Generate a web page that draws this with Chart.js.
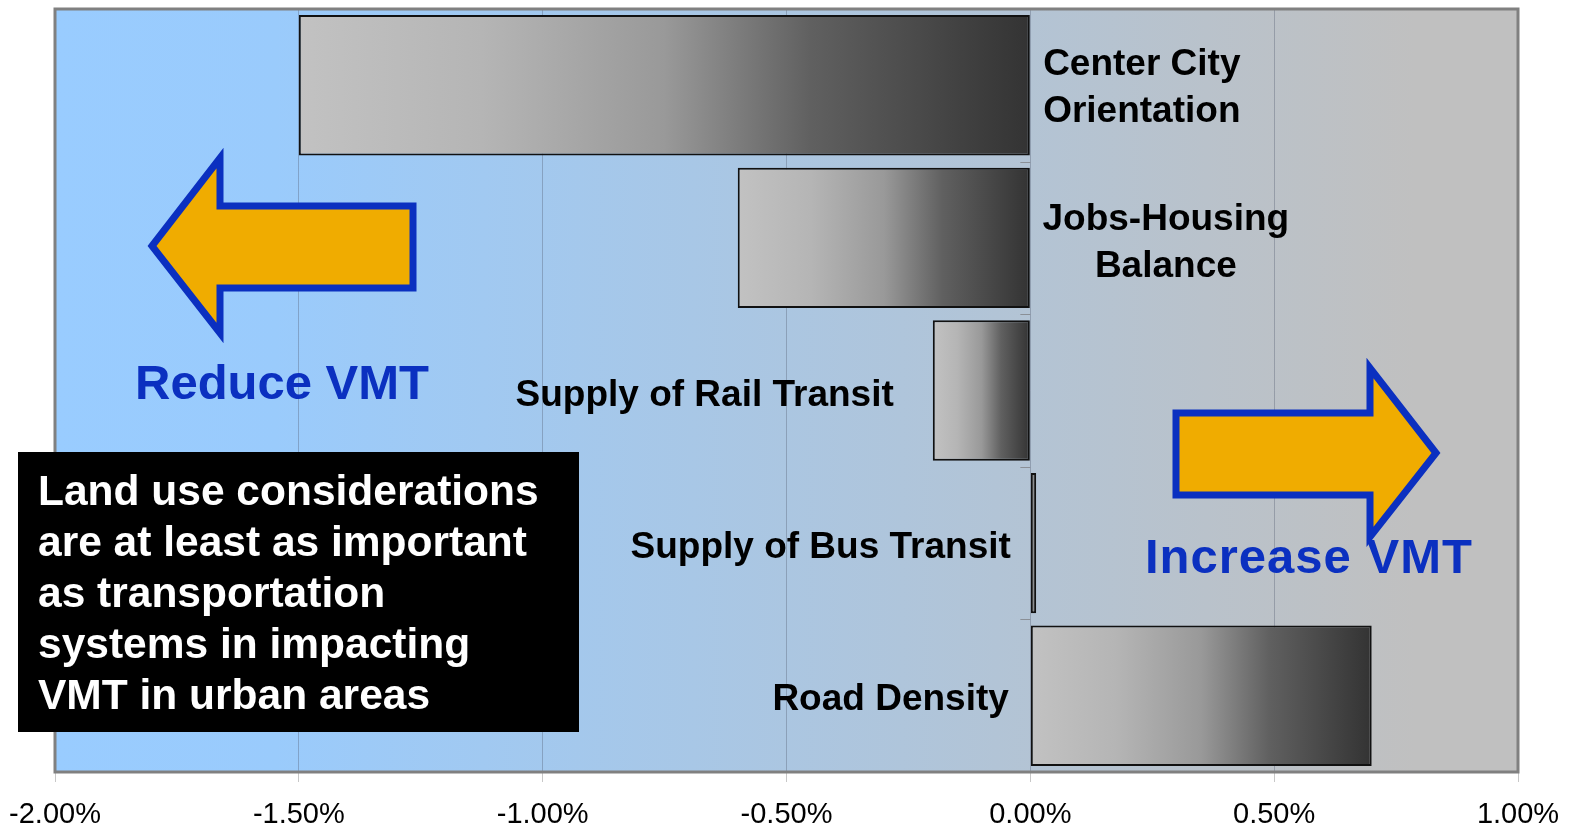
<!DOCTYPE html>
<html>
<head>
<meta charset="utf-8">
<script src="https://cdn.jsdelivr.net/npm/chart.js@4.4.1/dist/chart.umd.min.js"></script>
<style>
    html, body { margin: 0; padding: 0; background: #fff; }
</style>
</head>
<body>
<canvas id="vmtChart" width="1570" height="828"></canvas>
<script>
var categories = ['Center City Orientation', 'Jobs-Housing Balance', 'Supply of Rail Transit', 'Supply of Bus Transit', 'Road Density'];
var labelLines = [['Center City', 'Orientation'], ['Jobs-Housing', 'Balance'], ['Supply of Rail Transit'], ['Supply of Bus Transit'], ['Road Density']];
var vmtChange = [-1.5, -0.6, -0.2, 0.012, 0.7];
var xTicks = [-2, -1.5, -1, -0.5, 0, 0.5, 1];
var noteLines = ['Land use considerations', 'are at least as important', 'as transportation', 'systems in impacting', 'VMT in urban areas'];

var FONT = '"Liberation Sans", Arial, sans-serif';
var BLUE = '#0b30c0';
var ORANGE = '#f0ac00';

// label placement per bar: 'c' = centred right of zero, 'r' = right aligned left of bar
var labelPlace = [
    { mode: 'c', dx: 112, dy: 3 },
    { mode: 'c', dx: 136, dy: 5 },
    { mode: 'r', dx: -39, dy: 5, fromEnd: true },
    { mode: 'r', dx: -20, dy: 5 },
    { mode: 'r', dx: -22, dy: 4 }
];

function drawArrow(ctx, pts) {
    ctx.save();
    ctx.beginPath();
    ctx.moveTo(pts[0][0], pts[0][1]);
    for (var i = 1; i < pts.length; i++) ctx.lineTo(pts[i][0], pts[i][1]);
    ctx.closePath();
    ctx.fillStyle = ORANGE;
    ctx.fill();
    ctx.lineWidth = 7;
    ctx.lineJoin = 'miter';
    ctx.strokeStyle = BLUE;
    ctx.stroke();
    ctx.restore();
}

var backdrop = {
    id: 'backdrop',
    beforeDraw: (chart) => {
        var ctx = chart.ctx;
        var a = chart.chartArea;
        var g = ctx.createLinearGradient(a.left, 0, a.right, 0);
        g.addColorStop(0, '#99ccff');
        g.addColorStop(0.15, '#9acbfc');
        g.addColorStop(0.93, '#c0c0c0');
        g.addColorStop(1, '#c0c0c0');
        ctx.save();
        ctx.fillStyle = g;
        ctx.fillRect(a.left, a.top, a.right - a.left, a.bottom - a.top);
        ctx.restore();
    },
    beforeDatasetsDraw: (chart) => {
        var ctx = chart.ctx;
        var a = chart.chartArea;
        var x0 = chart.scales.x.getPixelForValue(0);
        var y = chart.scales.y;
        var half = (y.getPixelForValue(1) - y.getPixelForValue(0)) / 2;
        ctx.save();
        ctx.strokeStyle = '#8a8f96';
        ctx.lineWidth = 1;
        for (var i = 0; i < categories.length - 1; i++) {
            var yy = Math.round(y.getPixelForValue(i) + half) + 0.5;
            ctx.beginPath();
            ctx.moveTo(x0 - 10, yy);
            ctx.lineTo(x0, yy);
            ctx.stroke();
        }
        ctx.strokeStyle = '#808080';
        ctx.lineWidth = 3;
        ctx.strokeRect(a.left, a.top, a.right - a.left, a.bottom - a.top);
        ctx.restore();
    },
    afterDatasetsDraw: (chart) => {
        var ctx = chart.ctx;
        var meta = chart.getDatasetMeta(0);
        ctx.save();
        ctx.fillStyle = '#000';
        ctx.font = 'bold 37px ' + FONT;
        ctx.textBaseline = 'middle';
        meta.data.forEach((bar, i) => {
            var p = labelPlace[i];
            var lines = labelLines[i];
            var cy = bar.y + p.dy - (lines.length - 1) * 23.5;
            var x;
            if (p.mode === 'c') {
                ctx.textAlign = 'center';
                x = bar.base + p.dx;
            } else {
                ctx.textAlign = 'right';
                x = (p.fromEnd ? Math.min(bar.x, bar.base) : bar.base) + p.dx;
            }
            lines.forEach((t, k) => ctx.fillText(t, x, cy + k * 47));
        });

        // arrows
        drawArrow(ctx, [[152, 246], [220, 158], [220, 206], [413, 206], [413, 288], [220, 288], [220, 333]]);
        drawArrow(ctx, [[1436, 453], [1370, 368], [1370, 413], [1176, 413], [1176, 495], [1370, 495], [1370, 537]]);

        ctx.fillStyle = BLUE;
        ctx.textAlign = 'left';
        ctx.font = 'bold 49px ' + FONT;
        ctx.fillText('Reduce VMT', 135, 385);
        ctx.letterSpacing = '1px';
        ctx.fillText('Increase VMT', 1145, 559);
        ctx.letterSpacing = '0px';

        // note box
        ctx.fillStyle = '#000';
        ctx.fillRect(18, 452, 561, 280);
        ctx.fillStyle = '#fff';
        ctx.font = 'bold 42.5px ' + FONT;
        noteLines.forEach((t, k) => ctx.fillText(t, 38, 493 + k * 51));
        ctx.restore();
    }
};

function barGradient(context) {
    var chart = context.chart;
    if (!chart.chartArea) return '#999';
    var v = context.raw;
    var xs = chart.scales.x;
    var l = xs.getPixelForValue(Math.min(v, 0));
    var r = xs.getPixelForValue(Math.max(v, 0));
    if (r - l < 1) r = l + 1;
    var g = chart.ctx.createLinearGradient(l, 0, r, 0);
    g.addColorStop(0, '#c2c2c2');
    g.addColorStop(0.25, '#b5b5b5');
    g.addColorStop(0.5, '#999999');
    g.addColorStop(0.7, '#606060');
    g.addColorStop(1, '#333333');
    return g;
}

var ctx = document.getElementById('vmtChart').getContext('2d');
new Chart(ctx, {
    type: 'bar',
    data: {
        labels: categories,
        datasets: [{
            data: vmtChange,
            backgroundColor: barGradient,
            borderColor: '#111',
            borderWidth: 2,
            borderSkipped: false,
            barPercentage: 0.92,
            categoryPercentage: 1
        }]
    },
    options: {
        indexAxis: 'y',
        responsive: false,
        animation: false,
        devicePixelRatio: 1,
        layout: { padding: { left: 55, right: 52, top: 9, bottom: 0 } },
        plugins: {
            legend: { display: false },
            tooltip: { enabled: false }
        },
        scales: {
            x: {
                min: -2,
                max: 1,
                afterBuildTicks: (scale) => {
                    scale.ticks = xTicks.map(v => ({ value: v }));
                },
                afterFit: (scale) => {
                    scale.height = 56;
                    scale.paddingLeft = 0;
                    scale.paddingRight = 0;
                },
                ticks: {
                    color: '#000',
                    font: { family: FONT, size: 29 },
                    padding: 16,
                    maxRotation: 0,
                    callback: (v) => Number(v).toFixed(2) + '%'
                },
                grid: {
                    color: 'rgba(80, 90, 110, 0.35)',
                    lineWidth: 1,
                    tickLength: 10,
                    tickColor: '#c8c8c8'
                },
                border: { display: false }
            },
            y: {
                display: false
            }
        }
    },
    plugins: [backdrop]
});
</script>
</body>
</html>
